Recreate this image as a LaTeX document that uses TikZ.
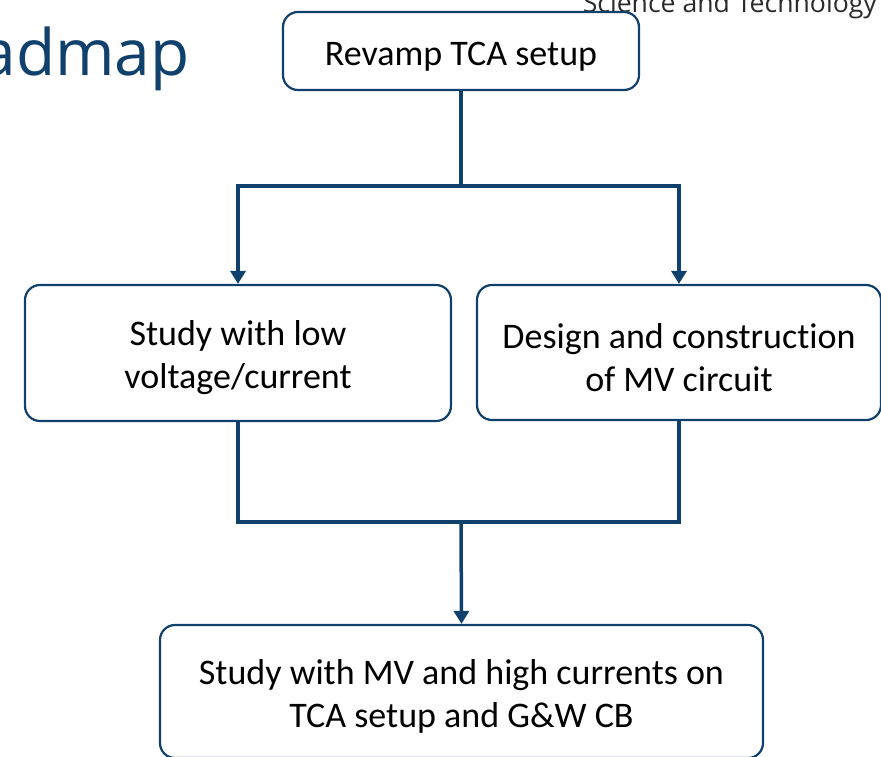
\documentclass[tikz,border=0pt]{standalone}
\usepackage{fontspec}
\setmainfont{Carlito}[Ligatures={NoCommon}]
\newfontfamily\titlefont{Open Sans}
\usetikzlibrary{arrows.meta}
\definecolor{roadblue}{HTML}{10406C}
\definecolor{headgray}{HTML}{2B2B2B}
\newcommand{\lift}{\rule{0pt}{35pt}}
\tikzstyle{stage}=[draw=roadblue,line width=2.2pt,rounded corners=15pt,align=center,inner sep=0pt,font=\fontsize{36}{43}\selectfont]
\tikzstyle{link}=[draw=roadblue,line width=3.5pt]
\tikzstyle{arrow}=[link,-{Triangle[width=15pt,length=13pt]}]

\begin{document}
\begin{tikzpicture}[x=1pt,y=-1pt]
	\useasboundingbox (0,0) rectangle (881,756);
	\clip (0,0) rectangle (881,756);
	\fill[white] (0,0) rectangle (881,756);

	%header
	\node[anchor=base east,inner sep=0pt,text=roadblue,font=\titlefont\fontsize{64}{72}\selectfont] (title) at (190,75) {Roadmap};
	\node[anchor=base east,inner sep=0pt,text=headgray,font=\titlefont\fontsize{26.6}{30}\selectfont] (school) at (877,12) {Science and Technology};

	%boxes
	\node[stage,minimum width=356pt,minimum height=78pt] (revamp) at (461,51) {\lift Revamp TCA setup};
	\node[stage,minimum width=426pt,minimum height=136pt] (lowstudy) at (238,353) {\lift Study with low\\voltage/current};
	\node[stage,minimum width=404pt,minimum height=135pt] (mvdesign) at (679,352.5) {\lift Design and construction\\of MV circuit};
	\node[stage,minimum width=603pt,minimum height=133pt] (mvstudy) at (461.5,691.5) {\lift Study with MV and high currents on\\TCA setup and G\&W CB};

	%connectors
	\coordinate (fork) at (461,186);
	\coordinate (merge) at (461,522);
	\draw[link] (revamp.south) -- (fork);
	\draw[arrow] (fork) -| (lowstudy.north);
	\draw[arrow] (fork) -| (mvdesign.north);
	\draw[link] (lowstudy.south) |- (merge);
	\draw[link] (mvdesign.south) |- (merge);
	\draw[arrow] (merge) -- (mvstudy.north);
\end{tikzpicture}
\end{document}
